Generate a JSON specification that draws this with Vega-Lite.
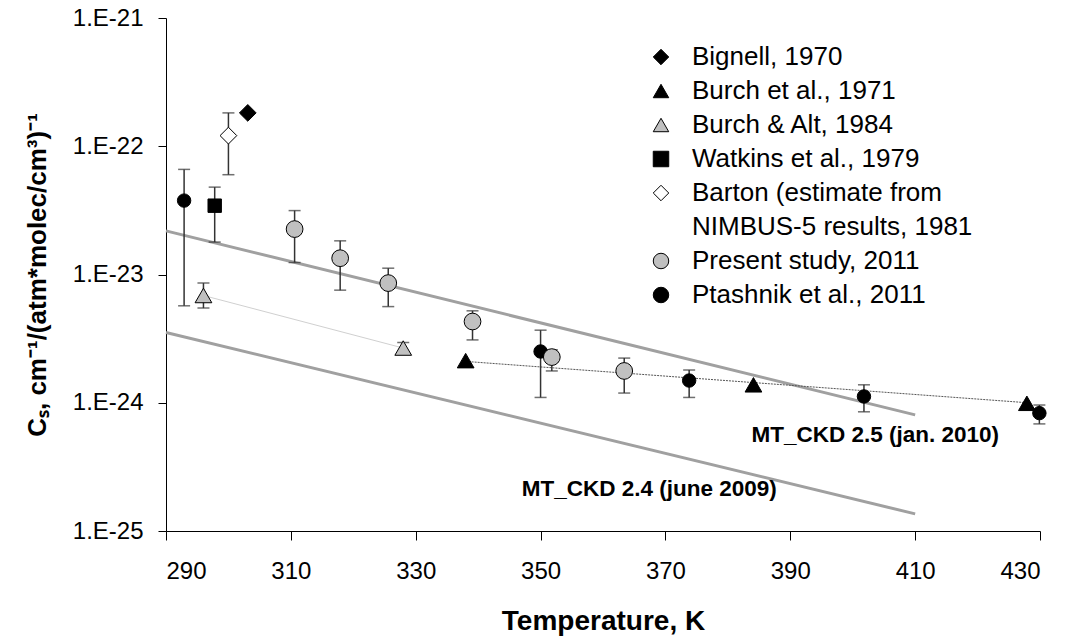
{
  "$schema": "https://vega.github.io/schema/vega-lite/v6.json",
  "width": 874,
  "height": 513,
  "autosize": {"type": "none"},
  "padding": {"left": 166, "top": 18, "right": 28, "bottom": 109},
  "background": "white",
  "config": {
    "view": {"stroke": null},
    "font": "Liberation Sans",
    "axis": {
      "grid": false,
      "domainColor": "black",
      "tickColor": "black",
      "labelColor": "black",
      "titleColor": "black",
      "labelFont": "Liberation Sans",
      "titleFont": "Liberation Sans",
      "labelFontSize": 24,
      "titleFontWeight": "bold"
    },
    "legend": {
      "orient": "none",
      "legendX": 482,
      "legendY": 26,
      "padding": 0,
      "labelFontSize": 26,
      "labelFont": "Liberation Sans",
      "labelColor": "black",
      "labelLimit": 500,
      "symbolSize": 240,
      "symbolStrokeWidth": 1,
      "labelOffset": 18,
      "rowPadding": 8
    }
  },
  "datasets": {
    "pts": [
      {"series": "Bignell, 1970", "T": 303.1, "v": 1.82e-22},
      {"series": "Burch et al., 1971", "T": 338.0, "v": 2.13e-24},
      {"series": "Burch et al., 1971", "T": 384.1, "v": 1.38e-24},
      {"series": "Burch et al., 1971", "T": 427.9, "v": 9.9e-25},
      {"series": "Burch & Alt, 1984", "T": 296.0, "v": 6.86e-24, "lo": 5.47e-24, "hi": 8.57e-24},
      {"series": "Burch & Alt, 1984", "T": 328.0, "v": 2.67e-24, "lo": 2.42e-24, "hi": 2.95e-24},
      {"series": "Watkins et al., 1979", "T": 297.8, "v": 3.44e-23, "lo": 1.79e-23, "hi": 4.8e-23},
      {"series": "Barton (estimate from NIMBUS-5 results, 1981", "T": 300.0, "v": 1.21e-22, "lo": 6.0e-23, "hi": 1.82e-22},
      {"series": "Ptashnik et al., 2011", "T": 292.9, "v": 3.77e-23, "lo": 5.7e-24, "hi": 6.6e-23},
      {"series": "Ptashnik et al., 2011", "T": 350.0, "v": 2.51e-24, "lo": 1.10e-24, "hi": 3.68e-24},
      {"series": "Ptashnik et al., 2011", "T": 373.8, "v": 1.49e-24, "lo": 1.10e-24, "hi": 1.80e-24},
      {"series": "Ptashnik et al., 2011", "T": 401.8, "v": 1.12e-24, "lo": 8.5e-25, "hi": 1.38e-24},
      {"series": "Ptashnik et al., 2011", "T": 429.9, "v": 8.3e-25, "lo": 6.84e-25, "hi": 9.6e-25},
      {"series": "Present study, 2011", "T": 310.6, "v": 2.26e-23, "lo": 1.24e-23, "hi": 3.15e-23},
      {"series": "Present study, 2011", "T": 317.9, "v": 1.34e-23, "lo": 7.55e-24, "hi": 1.83e-23},
      {"series": "Present study, 2011", "T": 325.6, "v": 8.57e-24, "lo": 5.62e-24, "hi": 1.12e-23},
      {"series": "Present study, 2011", "T": 339.1, "v": 4.30e-24, "lo": 3.09e-24, "hi": 5.21e-24},
      {"series": "Present study, 2011", "T": 351.8, "v": 2.27e-24, "lo": 1.77e-24, "hi": 2.59e-24},
      {"series": "Present study, 2011", "T": 363.4, "v": 1.77e-24, "lo": 1.19e-24, "hi": 2.23e-24}
    ],
    "lines": [
      {"name": "MT_CKD 2.5", "T": 290, "v": 2.19e-23},
      {"name": "MT_CKD 2.5", "T": 410, "v": 8.05e-25},
      {"name": "MT_CKD 2.4", "T": 290, "v": 3.53e-24},
      {"name": "MT_CKD 2.4", "T": 410, "v": 1.36e-25},
      {"name": "Burch 1971 trend", "T": 338, "v": 2.1e-24},
      {"name": "Burch 1971 trend", "T": 428, "v": 1.0e-24},
      {"name": "Burch & Alt trend", "T": 296, "v": 6.86e-24},
      {"name": "Burch & Alt trend", "T": 328, "v": 2.67e-24}
    ],
    "notes": [
      {"label": "MT_CKD 2.5 (jan. 2010)", "T": 403.6, "v": 5.6e-25},
      {"label": "MT_CKD 2.4 (june 2009)", "T": 367.4, "v": 2.13e-25}
    ]
  },
  "encoding": {
    "x": {
      "field": "T",
      "type": "quantitative",
      "scale": {"domain": [290, 430], "nice": false, "zero": false},
      "axis": {
        "title": "Temperature, K",
        "values": [290, 310, 330, 350, 370, 390, 410, 430],
        "tickSize": 9,
        "labelPadding": 19,
        "titleFontSize": 28,
        "titlePadding": 24
      }
    },
    "y": {
      "field": "v",
      "type": "quantitative",
      "scale": {"type": "log", "domain": [1e-25, 1e-21], "nice": false},
      "axis": {
        "title": "Cₛ, cm⁻¹/(atm*molec/cm³)⁻¹",
        "values": [1e-25, 1e-24, 1e-23, 1e-22, 1e-21],
        "labelExpr": "'1.E' + round(log(datum.value) / LN10)",
        "tickSize": 8,
        "labelPadding": 15,
        "titleFontSize": 26,
        "titlePadding": 22
      }
    }
  },
  "layer": [
    {
      "data": {"name": "lines"},
      "transform": [{"filter": "indexof(datum.name, 'MT_CKD') === 0"}],
      "mark": {"type": "line", "color": "#a0a0a0", "strokeWidth": 3},
      "encoding": {"detail": {"field": "name"}, "order": {"field": "T"}}
    },
    {
      "data": {"name": "lines"},
      "transform": [{"filter": "datum.name === 'Burch 1971 trend'"}],
      "mark": {"type": "line", "color": "#555555", "strokeWidth": 1, "strokeDash": [2, 1]},
      "encoding": {"order": {"field": "T"}}
    },
    {
      "data": {"name": "lines"},
      "transform": [{"filter": "datum.name === 'Burch & Alt trend'"}],
      "mark": {"type": "line", "color": "#d0d0d0", "strokeWidth": 1},
      "encoding": {"order": {"field": "T"}}
    },
    {
      "data": {"name": "pts"},
      "transform": [{"filter": "isValid(datum.lo)"}],
      "mark": {"type": "rule", "color": "#333333", "strokeWidth": 1.5},
      "encoding": {"y": {"field": "lo", "type": "quantitative"}, "y2": {"field": "hi"}}
    },
    {
      "data": {"name": "pts"},
      "transform": [
        {"filter": "isValid(datum.lo)"},
        {"fold": ["lo", "hi"], "as": ["k", "ev"]}
      ],
      "mark": {"type": "tick", "orient": "horizontal", "color": "#333333", "size": 12, "thickness": 1.5},
      "encoding": {"y": {"field": "ev", "type": "quantitative"}}
    },
    {
      "data": {"name": "pts"},
      "transform": [{"filter": "datum.series === 'Watkins et al., 1979' || datum.series === 'Ptashnik et al., 2011'"}],
      "mark": {"type": "point", "filled": true, "strokeWidth": 1, "opacity": 1, "size": 180},
      "encoding": {
        "shape": {"field": "series", "type": "nominal"},
        "fill": {"field": "series", "type": "nominal"},
        "stroke": {"field": "series", "type": "nominal"}
      }
    },
    {
      "data": {"name": "pts"},
      "transform": [{"filter": "datum.series !== 'Watkins et al., 1979' && datum.series !== 'Ptashnik et al., 2011'"}],
      "mark": {"type": "point", "filled": true, "strokeWidth": 1, "opacity": 1, "size": 280},
      "encoding": {
        "shape": {
          "field": "series",
          "type": "nominal",
          "scale": {
            "domain": ["Bignell, 1970", "Burch et al., 1971", "Burch & Alt, 1984", "Watkins et al., 1979", "Barton (estimate from NIMBUS-5 results, 1981", "NIMBUS-5 results, 1981", "Present study, 2011", "Ptashnik et al., 2011"],
            "range": ["diamond", "triangle-up", "triangle-up", "square", "diamond", "M0,0", "circle", "circle"]
          },
          "legend": {
            "title": null,
            "labelExpr": "datum.label === 'Barton (estimate from NIMBUS-5 results, 1981' ? 'Barton (estimate from' : datum.label"
          }
        },
        "fill": {
          "field": "series",
          "type": "nominal",
          "scale": {
            "domain": ["Bignell, 1970", "Burch et al., 1971", "Burch & Alt, 1984", "Watkins et al., 1979", "Barton (estimate from NIMBUS-5 results, 1981", "NIMBUS-5 results, 1981", "Present study, 2011", "Ptashnik et al., 2011"],
            "range": ["black", "black", "#c0c0c0", "black", "white", "transparent", "#c0c0c0", "black"]
          },
          "legend": {
            "title": null,
            "labelExpr": "datum.label === 'Barton (estimate from NIMBUS-5 results, 1981' ? 'Barton (estimate from' : datum.label"
          }
        },
        "stroke": {
          "field": "series",
          "type": "nominal",
          "scale": {
            "domain": ["Bignell, 1970", "Burch et al., 1971", "Burch & Alt, 1984", "Watkins et al., 1979", "Barton (estimate from NIMBUS-5 results, 1981", "NIMBUS-5 results, 1981", "Present study, 2011", "Ptashnik et al., 2011"],
            "range": ["black", "black", "black", "black", "black", "transparent", "black", "black"]
          },
          "legend": {
            "title": null,
            "labelExpr": "datum.label === 'Barton (estimate from NIMBUS-5 results, 1981' ? 'Barton (estimate from' : datum.label"
          }
        }
      }
    },
    {
      "data": {"name": "notes"},
      "mark": {"type": "text", "fontWeight": "bold", "fontSize": 22.5, "align": "center", "baseline": "middle", "color": "black", "font": "Liberation Sans"},
      "encoding": {"text": {"field": "label"}}
    }
  ]
}
